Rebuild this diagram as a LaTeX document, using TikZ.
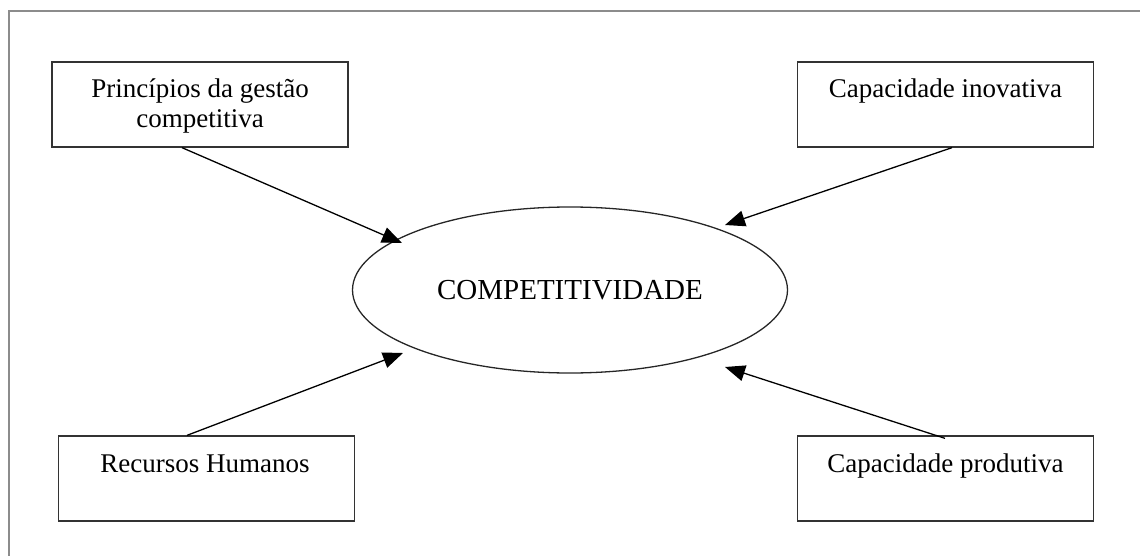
\documentclass[tikz,border=0pt]{standalone}
\usepackage{fontspec}
\setmainfont{Liberation Serif}
\usetikzlibrary{shapes.geometric,arrows.meta}

\tikzset{
  frameline/.style={draw=black!45, line width=2pt},
  factor/.style={draw=black!80, line width=1.3pt, rectangle, minimum width=296pt,
                 minimum height=85pt, inner sep=0pt},
  boxtext/.style={anchor=base, inner sep=0pt, align=center,
                  font=\fontsize{27}{30}\selectfont},
  core/.style={draw=black!85, line width=1.3pt, ellipse, minimum width=435pt,
               minimum height=166pt, inner sep=0pt,
               font=\fontsize{29}{32}\selectfont},
  arr/.style={draw=black, line width=1.3pt,
              -{Triangle[length=20pt,width=16pt]}}
}

\begin{document}
\begin{tikzpicture}[x=1pt,y=-1pt]
  \useasboundingbox (0,0) rectangle (1140,556);

  % outer frame (top and left edges)
  \draw[frameline] (1140,11) -- (9,11) -- (9,556);

  % the four factor boxes
  \node[factor] (b1) at (200,104.5) {};
  \node[factor] (b2) at (945.5,104.5) {};
  \node[factor] (b3) at (206.5,478.5) {};
  \node[factor] (b4) at (945.5,478.5) {};

  % labels sit on their baselines (last line for the two-line one)
  \node[boxtext] (t1) at (200,128) {Princípios da gestão\\competitiva};
  \node[boxtext] (t2) at (945.5,98) {Capacidade inovativa};
  \node[boxtext] (t3) at (205,472) {Recursos Humanos};
  \node[boxtext] (t4) at (945.5,472) {Capacidade produtiva};

  % central concept
  \node[core] (c) at (570,290) {COMPETITIVIDADE};

  % arrow tips around the ellipse
  \coordinate (h1) at (402,243);
  \coordinate (h2) at (725,225);
  \coordinate (h3) at (403,353);
  \coordinate (h4) at (725,367);

  \draw[arr] ([xshift=-18pt]b1.south) -- (h1);
  \draw[arr] ([xshift=6.5pt]b2.south) -- (h2);
  \draw[arr] ([xshift=-19.5pt]b3.north) -- (h3);
  \draw[arr] ([xshift=-0.5pt,yshift=-3pt]b4.north) -- (h4);
\end{tikzpicture}
\end{document}
